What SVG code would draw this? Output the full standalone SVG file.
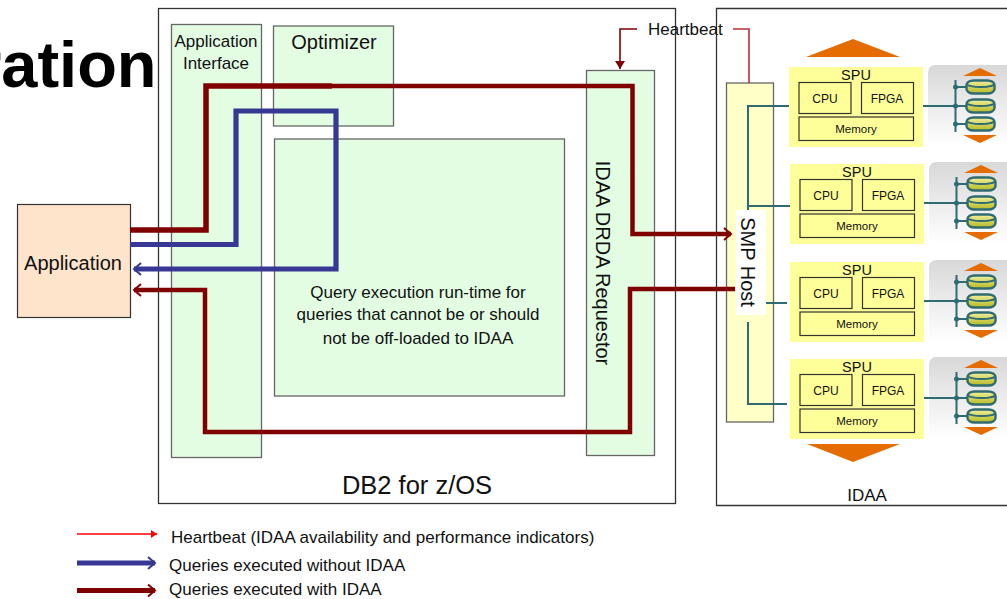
<svg xmlns="http://www.w3.org/2000/svg" width="1007" height="599" viewBox="0 0 1007 599">
<style>
text{font-family:"Liberation Sans",Arial,sans-serif;fill:#111}
.g{fill:#e3fde3;stroke:#666;stroke-width:1.3}
.box{fill:#fff;stroke:#333;stroke-width:1.3}
.in{fill:#ffff99;stroke:#333;stroke-width:1.2}
.t{stroke:#2f6b72;stroke-width:2;fill:none}
.or{fill:#e46c00}
</style>
<defs>
<linearGradient id="gr" x1="0" y1="0" x2="0" y2="1"><stop offset="0" stop-color="#d8d8d8"/><stop offset="1" stop-color="#fff"/></linearGradient>
<linearGradient id="dk" x1="0" y1="0" x2="0" y2="1"><stop offset="0" stop-color="#f0f0a0"/><stop offset="1" stop-color="#b8b820"/></linearGradient>
<g id="disk"><rect x="-14" y="-6.500" width="28" height="13" rx="7" ry="4.500" fill="url(#dk)" stroke="#2f6b72" stroke-width="2.400"/><path d="M-13.500-3A13.500 3 0 0 0 13.500-3" fill="none" stroke="#2f6b72" stroke-width="1.800"/></g>
<g id="spu">
<rect width="134" height="80" fill="#ffff99"/>
<rect class="in" x="10" y="15.500" width="52" height="31"/>
<rect class="in" x="72.500" y="15.500" width="52" height="31"/>
<rect class="in" x="10" y="50" width="114.500" height="23.500"/>
<text x="67" y="13" font-size="14.500" text-anchor="middle">SPU</text>
<text x="36" y="36" font-size="12" text-anchor="middle">CPU</text>
<text x="98" y="36" font-size="12" text-anchor="middle">FPGA</text>
<text x="67" y="66" font-size="11.500" text-anchor="middle">Memory</text>
<rect x="139" y="-2" width="90" height="81" rx="7" fill="url(#gr)"/>
<path class="t" d="M134 39H166.500M166.500 13V65M166.500 20H178M166.500 39H178M166.500 57H178"/>
<circle cx="166.500" cy="20" r="2.500" fill="#2f6b72"/><circle cx="166.500" cy="39" r="2.500" fill="#2f6b72"/><circle cx="166.500" cy="57" r="2.500" fill="#2f6b72"/>
<use href="#disk" x="191.500" y="20"/><use href="#disk" x="191.500" y="39"/><use href="#disk" x="191.500" y="57"/>
<path class="or" d="M174 9L191 1L208 9ZM174 68H208L191 76Z"/>
</g>
<marker id="mr" markerUnits="userSpaceOnUse" markerWidth="12" markerHeight="14" refX="9" refY="7" orient="auto"><path d="M2 1L9 7L2 13" fill="none" stroke="#800000" stroke-width="2"/></marker>
<marker id="mb" markerUnits="userSpaceOnUse" markerWidth="12" markerHeight="14" refX="9" refY="7" orient="auto"><path d="M2 1L9 7L2 13" fill="none" stroke="#373894" stroke-width="2"/></marker>
<marker id="hb" markerUnits="userSpaceOnUse" markerWidth="10" markerHeight="10" refX="8" refY="5" orient="auto"><path d="M0 0L8 5L0 10Z" fill="#800000"/></marker>
<marker id="lr" markerUnits="userSpaceOnUse" markerWidth="8" markerHeight="10" refX="6" refY="5" orient="auto"><path d="M0 1L6 5L0 9Z" fill="#f00"/></marker>
</defs>
<text id="title" x="-24" y="87" font-size="65" font-weight="bold" style="fill:#000">ration</text>
<g id="db2"><rect class="box" x="158.500" y="8.500" width="517" height="495"/><text x="417" y="494" font-size="25.500" text-anchor="middle">DB2 for z/OS</text></g>
<g id="idaa"><path class="box" d="M1007 8.500H716.500V505.500H1007"/><text x="867" y="501" font-size="17" text-anchor="middle">IDAA</text></g>
<g id="app-interface"><rect class="g" x="171.500" y="24.500" width="90" height="433"/><text x="216" y="47" font-size="17" text-anchor="middle">Application</text><text x="216" y="69" font-size="17" text-anchor="middle">Interface</text></g>
<g id="optimizer"><rect class="g" x="273.500" y="26" width="120" height="100"/><text x="334" y="49" font-size="20" text-anchor="middle">Optimizer</text></g>
<g id="runtime"><rect class="g" x="274.500" y="139" width="290" height="257"/><text font-size="17" text-anchor="middle"><tspan x="418" y="298">Query execution run-time for</tspan><tspan x="418" y="320">queries that cannot be or should</tspan><tspan x="418" y="344">not be off-loaded to IDAA</tspan></text></g>
<g id="drda"><rect class="g" x="586.500" y="70.500" width="68" height="385"/><text transform="translate(596 263) rotate(90)" font-size="20" text-anchor="middle">IDAA DRDA Requestor</text></g>
<g id="application"><rect x="17.500" y="204.500" width="113" height="113" fill="#ffe4cc" stroke="#333" stroke-width="1.200"/><text x="73" y="270" font-size="20" text-anchor="middle">Application</text></g>
<g id="smp"><rect x="726.500" y="83" width="47" height="339" fill="#ffffc8" stroke="#666" stroke-width="1.300"/></g>
<g id="spu1"><use href="#spu" x="789" y="67"/></g>
<g id="spu2"><use href="#spu" x="790" y="164"/></g>
<g id="spu3"><use href="#spu" x="790" y="262"/></g>
<g id="spu4"><use href="#spu" x="790" y="359"/></g>
<path class="or" d="M806 57L853 39L900 57ZM807 444H900L853 462Z"/>
<g id="connectors">
<path class="t" d="M789 106H748V210M748 206H790M748 322V404H787M766 303H787"/>
<rect x="736" y="210" width="30" height="105" fill="#fff"/>
<text transform="translate(741 262) rotate(90)" font-size="20" text-anchor="middle">SMP Host</text>
<path d="M749 83V29H733" fill="none" stroke="#b83030" stroke-width="1.600"/>
<path d="M637 29H620V69" fill="none" stroke="#800000" stroke-width="1.600" marker-end="url(#hb)"/>
<path d="M130 230H206V86H332" fill="none" stroke="#800000" stroke-width="5.500"/>
<path d="M332 86H632.500V234H731" fill="none" stroke="#800000" stroke-width="4.500" marker-end="url(#mr)"/>
<path d="M130 244.500H236V111H336V269H134" fill="none" stroke="#373894" stroke-width="5.200" marker-end="url(#mb)"/>
<path d="M735 289H630V432H205V290H134" fill="none" stroke="#800000" stroke-width="4.500" marker-end="url(#mr)"/>
</g>
<text x="648" y="35" font-size="17">Heartbeat</text>
<g id="legend">
<path d="M77 534H157" stroke="#f00" stroke-width="1.600" fill="none" marker-end="url(#lr)"/>
<path d="M77 563H155" stroke="#373894" stroke-width="5" fill="none" marker-end="url(#mb)"/>
<path d="M77 590.500H155" stroke="#800000" stroke-width="5" fill="none" marker-end="url(#mr)"/>
<text x="171" y="543" font-size="17">Heartbeat (IDAA availability and performance indicators)</text>
<text x="169" y="571" font-size="17">Queries executed without IDAA</text>
<text x="169" y="595" font-size="17">Queries executed with IDAA</text>
</g>
</svg>
